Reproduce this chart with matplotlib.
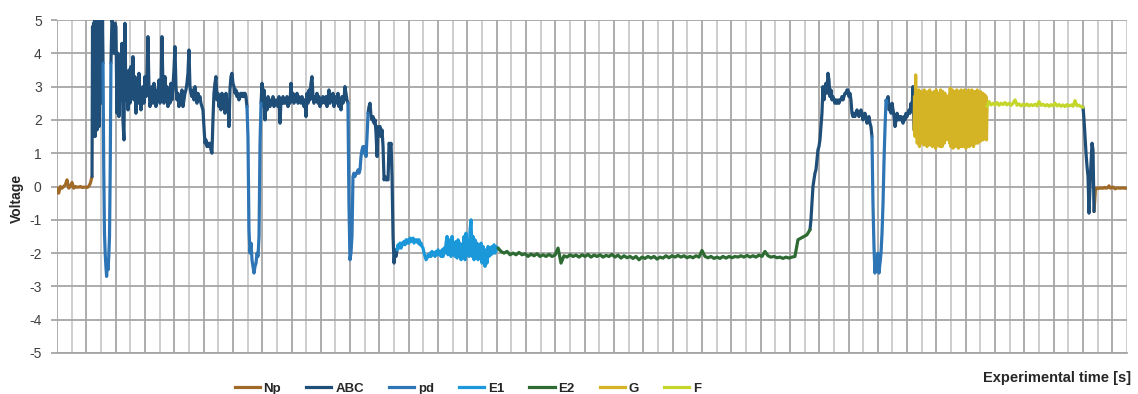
import numpy as np
import matplotlib
matplotlib.use("Agg")
import matplotlib.pyplot as plt
from matplotlib.lines import Line2D
from matplotlib.ticker import MultipleLocator

# ---------------- data ----------------
series_names = ["Np", "ABC", "pd", "E1", "E2", "G", "F"]
series_colors = ["#A06A28", "#1F4E79", "#2E75B6", "#1B98DA", "#2D6B33", "#D4B424", "#C4D62A"]

# sequence of waveform phases (series label, start time [s]); last phase ends at t_end
phase_series = ["Np", "ABC", "pd", "ABC", "pd", "ABC", "pd", "ABC", "E1", "E2",
                "ABC", "pd", "ABC", "G", "F", "ABC", "Np"]
phase_start = [0, 239, 314, 368, 1296, 1392, 1985, 2122, 2320, 3009,
               5137, 5560, 5663, 5847, 6345, 7000, 7075]
t_end = 7300

np_1 = [-0.05, -0.2, 0.0, -0.05, 0.0, 0.05, 0.2, -0.05, 0.0, 0.12, -0.05, 0.0,
        -0.02, -0.02, 0.0, -0.03, -0.02, -0.02, -0.03, 0.0, 0.1, 0.3]
abc_1 = [0.3, 4.8, 3.0, 4.9, 2.2, 5.0, 1.5, 4.8, 3.0, 5.0, 1.7, 4.9, 2.0, 5.0,
         1.8, 4.5, 3.8, 5.0, 2.5, 4.8, 3.7, 5.0, 3.7]
pd_1 = [3.7, 0.5, -1.4, -2.0, -2.4, -2.7, -2.3, -2.5, -2.1, -1.5, 0.5, 3.7]
abc_2 = [3.7, 5.0, 4.9, 4.0, 4.9, 4.8, 2.2, 4.0, 2.1, 3.8, 2.6, 4.3, 2.0, 1.4,
         4.9, 2.6, 3.3, 2.3, 3.5, 2.5, 3.6, 2.8, 3.9, 2.6, 3.3, 2.2, 3.1, 2.5,
         3.4, 2.7, 2.3, 2.6, 3.0, 2.5, 3.3, 2.7, 3.2, 4.5, 3.0, 2.4, 2.6, 3.0,
         2.5, 3.1, 2.7, 2.4, 2.9, 2.6, 3.2, 2.5, 2.8, 4.5, 3.0, 2.5, 3.3, 2.6,
         3.0, 2.4, 2.9, 2.5, 3.1, 2.6, 3.0, 3.5, 4.2, 3.0, 2.6, 2.8, 2.4, 2.7,
         2.5, 2.9, 2.4, 2.6, 2.8, 2.9, 3.1, 3.4, 4.1, 3.0, 2.8, 2.7, 2.9, 2.6,
         3.0, 2.7, 2.5, 2.8, 2.6, 2.7, 2.5, 2.4, 2.3, 1.8, 1.3, 1.4, 1.2, 1.3,
         1.2, 1.3, 1.1, 1.0, 2.0, 2.8, 3.1, 3.3, 2.6, 2.8, 2.4, 2.7, 2.3, 2.8,
         2.5, 2.6, 2.2, 2.8, 2.4, 2.6, 1.8, 2.9, 3.3, 3.4, 3.1, 3.0, 2.8, 2.9,
         2.7, 2.8, 2.6, 2.7, 2.8, 2.7, 2.8, 2.7, 2.8, 2.7, 2.4]
pd_2 = [2.4, 1.5, -1.3, -2.0, -1.7, -2.2, -2.4, -2.6, -2.4, -2.3, -2.0, -2.1,
        -1.5, 1.3, 2.5]
abc_3 = [2.5, 3.1, 2.4, 2.9, 2.0, 2.6, 2.3, 2.7, 2.5, 2.4, 2.6, 2.5, 2.7, 2.4,
         2.6, 2.5, 2.6, 2.4, 2.7, 1.9, 2.6, 2.5, 2.7, 2.5, 2.6, 2.5, 2.7, 2.4,
         2.6, 2.5, 3.1, 2.6, 2.8, 2.5, 2.7, 2.6, 2.8, 2.5, 2.7, 2.6, 2.5, 2.7,
         2.6, 2.4, 2.6, 2.1, 2.8, 2.5, 2.9, 2.6, 3.1, 3.3, 2.7, 2.5, 2.7, 2.6,
         2.8, 2.5, 2.7, 2.4, 2.6, 2.5, 2.7, 2.6, 2.5, 2.7, 2.4, 2.6, 2.9, 2.5,
         2.7, 2.6, 2.8, 2.4, 2.6, 2.7, 2.5, 2.8, 2.4, 2.6, 2.3, 2.7, 2.5, 2.6,
         3.0, 2.8, 2.6, 2.5]
pd_3 = [2.5, -0.5, -2.2, -2.0, -1.5, 0.3, 0.4, 0.3, 0.4, 0.4, 0.5, 0.4, 0.5,
        0.9, 1.1, 1.2, 1.0, 1.2, 0.9, 1.5, 2.2]
abc_4 = [2.2, 2.4, 2.5, 2.1, 2.0, 2.1, 1.9, 2.0, 1.6, 0.9, 1.8, 1.7, 1.8, 1.5,
         1.7, 1.2, 0.2, 0.3, 0.2, 0.2, 0.2, 1.3, 1.2, 1.3, 0.3, -1.5, -2.3,
         -1.9, -2.1, -1.9]
e1_1 = [-1.9, -1.75, -1.85, -1.7, -1.85, -1.7, -1.75, -1.65, -1.75, -1.6, -1.7,
        -1.6, -1.7, -1.55, -1.65, -1.6, -1.55, -1.7, -1.6, -1.65, -1.6, -1.7,
        -1.6, -1.75, -1.7, -1.8, -1.85, -2.0, -2.1, -2.2, -2.15, -2.05, -2.1,
        -2.0, -2.1, -1.95, -2.05, -2.0, -2.1, -1.95, -2.05, -1.9, -2.05, -1.95,
        -2.1, -1.9, -2.1, -1.85, -2.0, -1.7, -1.5, -2.05, -1.9, -1.6, -2.1,
        -1.5, -1.95, -1.7, -2.1, -1.65, -2.15, -1.6, -2.05, -1.7, -2.2, -1.8,
        -2.1, -1.5, -2.2, -1.4, -2.05, -1.6, -2.1, -1.3, -1.0, -2.1, -1.5,
        -2.2, -1.6, -2.1, -1.7, -2.2, -1.8, -2.1, -1.7, -2.3, -1.8, -2.2,
        -2.4, -1.9, -2.3, -1.8, -2.1, -1.85, -2.05, -1.8, -2.0, -1.75, -2.0,
        -1.8, -1.9, -1.85]
e2_1 = [-1.85, -1.95, -2.0, -1.95, -2.05, -2.0, -2.05, -1.98, -2.05, -2.02,
        -2.1, -2.03, -2.08, -2.02, -2.1, -2.05, -2.1, -2.04, -2.1, -2.06,
        -1.85, -2.3, -2.08, -2.12, -2.05, -2.1, -2.06, -2.12, -2.05, -2.1,
        -2.04, -2.12, -2.06, -2.1, -2.05, -2.12, -2.07, -2.1, -2.04, -2.12,
        -2.06, -2.15, -2.08, -2.14, -2.1, -2.16, -2.1, -2.2, -2.12, -2.16,
        -2.1, -2.15, -2.1, -2.18, -2.12, -2.15, -2.08, -2.14, -2.08, -2.12,
        -2.07, -2.12, -2.08, -2.14, -2.1, -2.14, -2.08, -2.12, -1.92, -2.1,
        -2.14, -2.1, -2.16, -2.12, -2.16, -2.1, -2.15, -2.1, -2.14, -2.1,
        -2.12, -2.08, -2.12, -2.07, -2.12, -2.08, -2.12, -2.06, -2.1, -1.95,
        -2.08, -2.12, -2.1, -2.14, -2.12, -2.16, -2.12, -2.15, -2.12, -2.1,
        -1.6, -1.55, -1.5, -1.45, -1.3]
abc_5 = [-1.3, -1.0, -0.5, 0.0, 0.2, 0.4, 0.5, 0.8, 1.1, 1.2, 1.4, 1.8, 2.2,
         3.0, 2.6, 2.9, 3.1, 2.8, 3.4, 3.2, 2.7, 2.9, 2.6, 2.7, 2.6, 2.5, 2.6,
         2.5, 2.6, 2.5, 2.6, 2.6, 2.7, 2.6, 2.7, 2.8, 2.8, 2.9, 2.9, 2.7, 2.8,
         2.6, 2.2, 2.1, 2.2, 2.1, 2.2, 2.3, 2.2, 2.1, 2.2, 2.3, 2.2, 2.0, 2.1,
         2.2, 2.1, 1.9, 2.0, 2.1, 1.9, 1.8, 1.5]
pd_4 = [1.5, -0.5, -1.8, -2.6, -2.2, -2.4, -2.0, -2.6, -2.3, -2.0, -1.4, -0.5,
        0.8, 1.8, 2.6, 2.5]
abc_6 = [2.5, 2.7, 2.3, 2.4, 2.2, 2.5, 2.3, 2.1, 1.8, 2.0, 2.2, 2.0, 2.1, 2.0,
         2.1, 2.0, 1.9, 2.1, 2.0, 2.2, 2.1, 2.2, 2.3, 2.2, 2.5, 2.3, 3.0, 1.7]
g_1 = [1.7, 2.7, 1.5, 3.35, 1.6, 2.8, 1.3, 2.6, 1.5, 2.9, 1.2, 2.7, 1.6, 2.85,
       1.3, 2.5, 1.45, 2.8, 1.25, 2.9, 1.5, 2.6, 1.3, 2.75, 1.2, 2.85, 1.45,
       2.6, 1.35, 2.9, 1.25, 2.7, 1.5, 2.8, 1.2, 2.55, 1.4, 2.85, 1.3, 2.7,
       1.15, 2.9, 1.4, 2.65, 1.25, 2.8, 1.5, 2.75, 1.2, 2.9, 1.35, 2.6, 1.2,
       2.85, 1.45, 2.7, 1.3, 2.8, 1.55, 2.6, 1.4, 2.7, 1.6, 2.5, 1.5, 2.75,
       1.3, 2.95, 1.2, 2.8, 1.4, 2.9, 1.15, 2.7, 1.35, 2.85, 1.2, 2.6, 1.45,
       2.9, 1.25, 2.75, 1.15, 2.85, 1.4, 2.7, 1.2, 2.9, 1.35, 2.6, 1.2, 2.8,
       1.45, 2.9, 1.25, 2.7, 1.15, 2.85, 1.4, 2.75, 1.3, 2.9, 1.2, 2.65, 1.45,
       2.8, 1.25, 2.9, 1.35, 2.7, 1.2, 2.8, 1.5, 2.85, 1.3, 2.75, 1.4, 2.9,
       1.3, 2.7, 1.45, 2.8, 1.35, 2.85, 1.4, 2.7, 1.5, 2.8, 1.4, 2.6, 1.45,
       2.75, 1.5, 2.7, 1.4, 2.4]
f_1 = [2.4, 2.55, 2.45, 2.5, 2.45, 2.52, 2.44, 2.5, 2.46, 2.52, 2.45, 2.5,
       2.44, 2.5, 2.6, 2.44, 2.48, 2.42, 2.47, 2.43, 2.48, 2.42, 2.46, 2.43,
       2.47, 2.42, 2.55, 2.44, 2.47, 2.42, 2.46, 2.41, 2.46, 2.42, 2.5, 2.42,
       2.46, 2.41, 2.45, 2.4, 2.46, 2.42, 2.45, 2.41, 2.58, 2.42, 2.44, 2.4,
       2.38]
abc_7 = [2.38, 2.0, 1.5, 1.0, 0.6, 0.3, -0.8, 0.0, 0.7, 1.3, 1.1, -0.75]
np_2 = [-0.75, -0.05, -0.05, -0.06, -0.04, -0.05, -0.05, -0.03, -0.05, -0.04,
        0.02, -0.05, -0.03, -0.02, -0.07, -0.05, -0.04, -0.05, -0.05, -0.04,
        -0.05, -0.05, -0.05]

phase_values = [np_1, abc_1, pd_1, abc_2, pd_2, abc_3, pd_3, abc_4, e1_1, e2_1,
                abc_5, pd_4, abc_6, g_1, f_1, abc_7, np_2]

y_ticks = [-5, -4, -3, -2, -1, 0, 1, 2, 3, 4, 5]

# ---------------- figure ----------------
plt.rcParams['font.family'] = ['Liberation Sans', 'DejaVu Sans']
W, H = 1138, 394
fig = plt.figure(figsize=(W / 100, H / 100), dpi=100)
ax = fig.add_axes([57 / W, 1 - 353 / H, (1127 - 57) / W, (353 - 20) / H])

color_of = dict(zip(series_names, series_colors))
z_of = {n: 3 + i for i, n in enumerate(series_names)}
phase_end = phase_start[1:] + [t_end]
for name, t0, t1, vals in zip(phase_series, phase_start, phase_end, phase_values):
    t = np.linspace(t0, t1, len(vals))
    ax.plot(t, vals, color=color_of[name], lw=2.3, zorder=z_of[name],
            solid_joinstyle='round', solid_capstyle='round')

ax.set_xlim(0, t_end)
ax.set_ylim(-5, 5)
ax.set_yticks(y_ticks)
ax.set_yticklabels([str(v) for v in y_ticks])
ax.xaxis.set_major_locator(MultipleLocator(200))
ax.xaxis.set_minor_locator(MultipleLocator(100))
ax.grid(True, which='major', axis='y', color='#A6A6A6', lw=1.3, zorder=0)
ax.grid(True, which='major', axis='x', color='#A6A6A6', lw=1.3, zorder=0)
ax.grid(True, which='minor', axis='x', color='#CACACA', lw=1.3, zorder=0)
ax.tick_params(axis='x', which='both', length=0, labelbottom=False)
ax.tick_params(axis='y', length=4.5, width=1.3, color='#A6A6A6', pad=6.5,
               labelsize=10, labelcolor='#404040')
for s in ['top', 'right', 'left']:
    ax.spines[s].set_visible(False)
ax.spines['bottom'].set_color('#A6A6A6')
ax.spines['bottom'].set_linewidth(1.3)
ax.set_axisbelow(True)

ax.set_ylabel('Voltage', fontsize=10, fontweight='bold', color='#262626')
ax.yaxis.set_label_coords(-0.031, 0.465)

fig.text(1131 / W, 1 - 378 / H, 'Experimental time [s]', ha='right', va='center',
         fontsize=10.5, fontweight='bold', color='#262626')

handles = [Line2D([], [], color=c, lw=2.3) for c in series_colors]
fig.legend(handles, series_names, ncol=7, loc='center',
           bbox_to_anchor=(468 / W, 1 - 388.5 / H), frameon=False,
           handlelength=1.9, handletextpad=0.3, columnspacing=1.9,
           prop={'size': 9.5, 'weight': 'bold'}, labelcolor='#262626',
           borderpad=0, borderaxespad=0)

fig.savefig('out.png', dpi=100)
